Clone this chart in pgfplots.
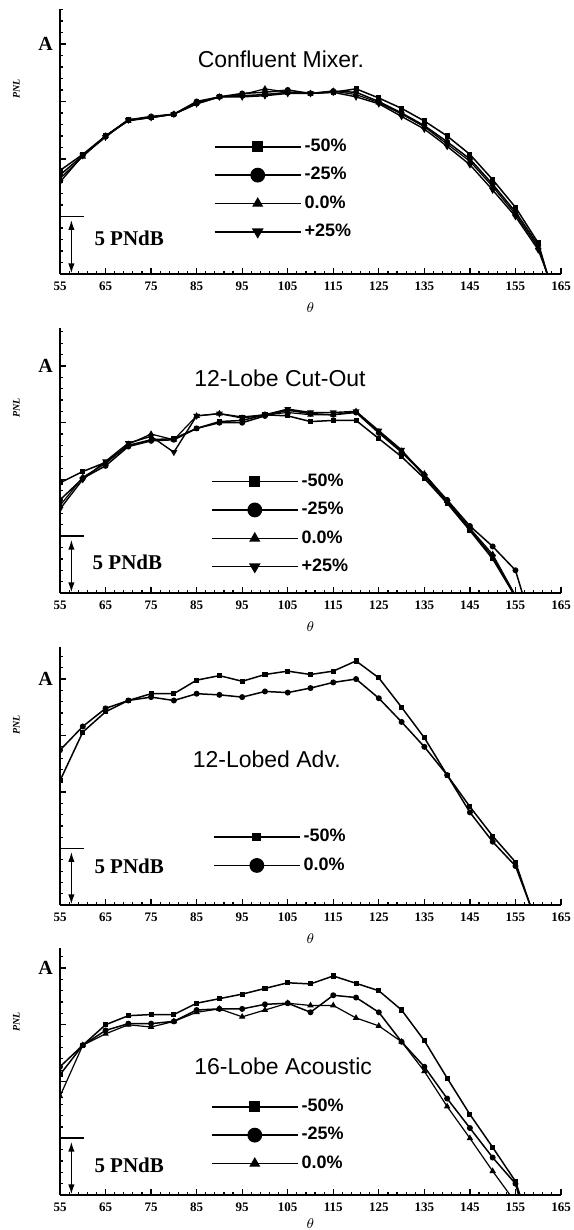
\documentclass[border=0pt]{standalone}
\usepackage{fontspec}
\setmainfont{Liberation Serif}
\newfontfamily\ssf{Liberation Sans}
\usepackage{pgfplots}
\pgfplotsset{compat=1.18}
\usetikzlibrary{arrows.meta}

\pgfplotsset{
  panel/.style={
    scale only axis, width=250.5pt,
    xmin=55, xmax=165, ymin=0,
    axis lines=left, axis line style={-, line width=0.8pt},
    clip marker paths=true,
    tick align=inside, major tick length=3pt, minor tick length=1.5pt,
    every tick/.style={black, line width=0.6pt},
    xtick={55,65,...,165}, minor xtick={57,59,...,163},
    ytick={0,5,10,15,20}, yticklabels={,,,,A}, minor ytick={0,1,...,23},
    /pgf/number format/assume math mode=true,
    xticklabel style={font=\fontsize{6.5}{6.5}\selectfont\bfseries, yshift=-0.5pt},
    yticklabel style={font=\fontsize{10}{10}\selectfont\bfseries},
    xlabel={$\theta$},
    xlabel style={at={(axis description cs:0.5,0)}, anchor=center, yshift=-17pt, font=\fontsize{7}{7}\selectfont},
    ylabel={PNL},
    ylabel style={at={(axis description cs:-0.087,0.7)}, anchor=center, font=\fontsize{5}{5}\selectfont\bfseries\itshape},
    legend cell align=left,
    legend style={draw=none, fill=none, inner sep=0pt, outer sep=0pt, anchor=north west,
      row sep=6.4pt, column sep=1.5pt, font=\ssf\bfseries\fontsize{9}{9}\selectfont,
      nodes={inner sep=0pt}},
    legend image code/.code={\draw[mark repeat=2,mark phase=2,##1] plot coordinates {(0pt,0pt) (21.5pt,0pt) (43pt,0pt)};},
  },
  s50/.style={black, line width=0.75pt, mark=square*, mark size=0.9pt, forget plot},
  s25/.style={black, line width=0.75pt, mark=*, mark size=1.1pt, forget plot},
  s00/.style={black, line width=0.6pt, mark=triangle*, mark size=1.3pt, forget plot},
  sp25/.style={black, line width=0.7pt, mark=triangle*, mark options={rotate=180}, mark size=1.3pt, forget plot},
  L50/.style={black, line width=0.8pt, mark=square*, mark size=2.4pt},
  L50s/.style={black, line width=0.8pt, mark=square*, mark size=1.8pt},
  L25/.style={black, line width=0.8pt, mark=*, mark size=3.3pt},
  L00/.style={black, line width=0.6pt, mark=triangle*, mark size=2.6pt},
  Lp25/.style={black, line width=0.8pt, mark=triangle*, mark options={rotate=180}, mark size=2.6pt},
}
\newcommand{\pndb}{%
  \draw[line width=0.8pt] (axis cs:55,5) -- (axis cs:60.3,5);
  \draw[line width=0.7pt, {Latex[length=5pt,width=3.2pt]}-{Latex[length=5pt,width=3.2pt]}] (axis cs:57.5,0.05) -- (axis cs:57.5,4.7);
}
\newcommand{\ttl}[3]{\node[font=\ssf\fontsize{11.5}{11.5}\selectfont] at (axis cs:#1,#2) {#3};}

\begin{document}
\begin{tikzpicture}
\path[use as bounding box] (0,0) rectangle (286.5pt,615pt);

% ---------------- Panel 1 ----------------
\begin{axis}[panel, at={(30pt,478pt)}, anchor=south west, height=132.25pt, ymax=23,
  legend style={at={(axis cs:88.8,11.74)}}]
\addlegendimage{L50}\addlegendentry{-50\%}
\addlegendimage{L25}\addlegendentry{-25\%}
\addlegendimage{L00}\addlegendentry{0.0\%}
\addlegendimage{Lp25}\addlegendentry{+25\%}
\addplot[s50] coordinates {(55,9.0)(60,10.4)(65,12.0)(70,13.4)(75,13.6)(80,13.9)(85,14.8)(90,15.4)(95,15.5)(100,15.6)(105,15.8)(110,15.7)(115,15.8)(120,16.1)(125,15.3)(130,14.4)(135,13.3)(140,12.0)(145,10.4)(150,8.2)(155,5.8)(160,2.7)(163,-1.4)};
\addplot[s25] coordinates {(55,8.6)(60,10.3)(65,12.0)(70,13.4)(75,13.7)(80,13.9)(85,15.0)(90,15.4)(95,15.7)(100,15.8)(105,16.0)(110,15.7)(115,15.9)(120,15.8)(125,15.0)(130,14.0)(135,12.9)(140,11.5)(145,10.0)(150,7.8)(155,5.4)(160,2.5)(163,-1.3)};
\addplot[s00] coordinates {(55,8.3)(60,10.2)(65,12.0)(70,13.3)(75,13.6)(80,13.9)(85,14.9)(90,15.4)(95,15.6)(100,16.1)(105,15.8)(110,15.7)(115,15.9)(120,15.6)(125,14.9)(130,13.9)(135,12.8)(140,11.3)(145,9.8)(150,7.6)(155,5.2)(160,2.3)(163,-1.2)};
\addplot[sp25] coordinates {(55,8.0)(60,10.3)(65,11.9)(70,13.4)(75,13.6)(80,13.9)(85,14.8)(90,15.4)(95,15.4)(100,15.5)(105,15.7)(110,15.7)(115,15.8)(120,15.4)(125,14.8)(130,13.7)(135,12.6)(140,11.1)(145,9.5)(150,7.3)(155,5.0)(160,2.1)(163,-1.0)};
\pndb
\node[font=\bfseries\fontsize{10.5}{10.5}\selectfont] at (axis cs:70.2,3.1) {5 PNdB};
\ttl{103.5}{18.7}{Confluent Mixer.}
\end{axis}

% ---------------- Panel 2 ----------------
\begin{axis}[panel, at={(30pt,318.5pt)}, anchor=south west, height=132.25pt, ymax=23.3,
  legend style={at={(axis cs:88.15,10.5)}}]
\addlegendimage{L50}\addlegendentry{-50\%}
\addlegendimage{L25}\addlegendentry{-25\%}
\addlegendimage{L00}\addlegendentry{0.0\%}
\addlegendimage{Lp25}\addlegendentry{+25\%}
\addplot[s50] coordinates {(55,9.7)(60,10.7)(65,11.5)(70,13.0)(75,13.5)(80,13.6)(85,14.5)(90,15.1)(95,15.2)(100,15.7)(105,15.6)(110,15.1)(115,15.2)(120,15.2)(125,13.6)(130,12.0)(135,10.1)(140,7.9)(145,5.5)(150,3.0)(156,-1.0)};
\addplot[s25] coordinates {(55,8.2)(60,10.1)(65,11.2)(70,12.9)(75,13.4)(80,13.5)(85,14.5)(90,15.0)(95,15.0)(100,15.6)(105,16.1)(110,15.8)(115,15.7)(120,15.9)(125,14.1)(130,12.4)(135,10.4)(140,8.2)(145,5.9)(150,4.1)(155,2.0)(158,-2.0)};
\addplot[s00] coordinates {(55,7.7)(60,10.2)(65,11.4)(70,13.1)(75,14.0)(80,13.5)(85,15.6)(90,15.8)(95,15.4)(100,15.7)(105,15.9)(110,15.7)(115,15.7)(120,16.0)(125,14.2)(130,12.5)(135,10.5)(140,8.1)(145,5.7)(150,3.4)(156,-0.94)};
\addplot[sp25] coordinates {(55,7.4)(60,10.0)(65,11.6)(70,13.2)(75,13.8)(80,12.4)(85,15.6)(90,15.8)(95,15.5)(100,15.7)(105,16.2)(110,15.9)(115,15.9)(120,16.0)(125,14.3)(130,12.6)(135,10.3)(140,8.0)(145,5.6)(150,3.2)(156,-1.07)};
\pndb
\node[font=\bfseries\fontsize{10.5}{10.5}\selectfont] at (axis cs:69.8,2.7) {5 PNdB};
\ttl{103.3}{18.9}{12-Lobe Cut-Out}
\end{axis}

% ---------------- Panel 3 ----------------
\begin{axis}[panel, at={(30pt,162.5pt)}, anchor=south west, height=128.8pt, ymax=22.8,
  legend style={at={(axis cs:88.6,6.7)}}]
\addlegendimage{L50s}\addlegendentry{-50\%}
\addlegendimage{L25}\addlegendentry{0.0\%}
\addplot[s50] coordinates {(55,11.0)(60,15.3)(65,17.1)(70,18.1)(75,18.7)(80,18.7)(85,19.9)(90,20.3)(95,19.8)(100,20.4)(105,20.7)(110,20.4)(115,20.7)(120,21.6)(125,20.1)(130,17.5)(135,14.8)(140,11.5)(145,8.7)(150,6.1)(155,3.8)(160,-2.1)};
\addplot[s25] coordinates {(55,13.7)(60,15.8)(65,17.4)(70,18.1)(75,18.4)(80,18.1)(85,18.7)(90,18.6)(95,18.4)(100,18.9)(105,18.8)(110,19.2)(115,19.7)(120,20.0)(125,18.3)(130,16.2)(135,14.0)(140,11.5)(145,8.2)(150,5.6)(155,3.45)(160,-1.9)};
\pndb
\node[font=\bfseries\fontsize{10.5}{10.5}\selectfont] at (axis cs:70.2,3.4) {5 PNdB};
\ttl{100.4}{12.9}{12-Lobed Adv.}
\end{axis}

% ---------------- Panel 4 ----------------
\begin{axis}[panel, at={(30pt,17.5pt)}, anchor=south west, height=123.7pt, ymax=21.8,
  xlabel style={yshift=2.5pt},
  legend style={at={(axis cs:88.15,8.46)}}]
\addlegendimage{L50}\addlegendentry{-50\%}
\addlegendimage{L25}\addlegendentry{-25\%}
\addlegendimage{L00}\addlegendentry{0.0\%}
\addplot[s50] coordinates {(55,10.6)(60,13.2)(65,15.0)(70,15.8)(75,15.9)(80,15.9)(85,16.9)(90,17.3)(95,17.7)(100,18.2)(105,18.7)(110,18.6)(115,19.3)(120,18.65)(125,18.0)(130,16.3)(135,13.6)(140,10.3)(145,7.1)(150,4.2)(155,1.2)(158,-2.4)};
\addplot[s25] coordinates {(55,11.3)(60,13.2)(65,14.5)(70,15.1)(75,15.1)(80,15.3)(85,16.3)(90,16.4)(95,16.4)(100,16.8)(105,16.9)(110,16.1)(115,17.6)(120,17.4)(125,16.1)(130,13.5)(135,11.3)(140,8.5)(145,5.9)(150,3.3)(155,1.0)(158,-3.3)};
\addplot[s00] coordinates {(55,8.7)(60,13.2)(65,14.2)(70,15.0)(75,14.8)(80,15.3)(85,16.1)(90,16.4)(95,15.7)(100,16.3)(105,16.9)(110,16.7)(115,16.7)(120,15.6)(125,14.9)(130,13.5)(135,10.9)(140,7.8)(145,5.0)(150,2.1)(156,-1.2)};
\pndb
\node[font=\bfseries\fontsize{10.5}{10.5}\selectfont] at (axis cs:70.2,2.6) {5 PNdB};
\ttl{104}{11.3}{16-Lobe Acoustic}
\end{axis}
\end{tikzpicture}
\end{document}
